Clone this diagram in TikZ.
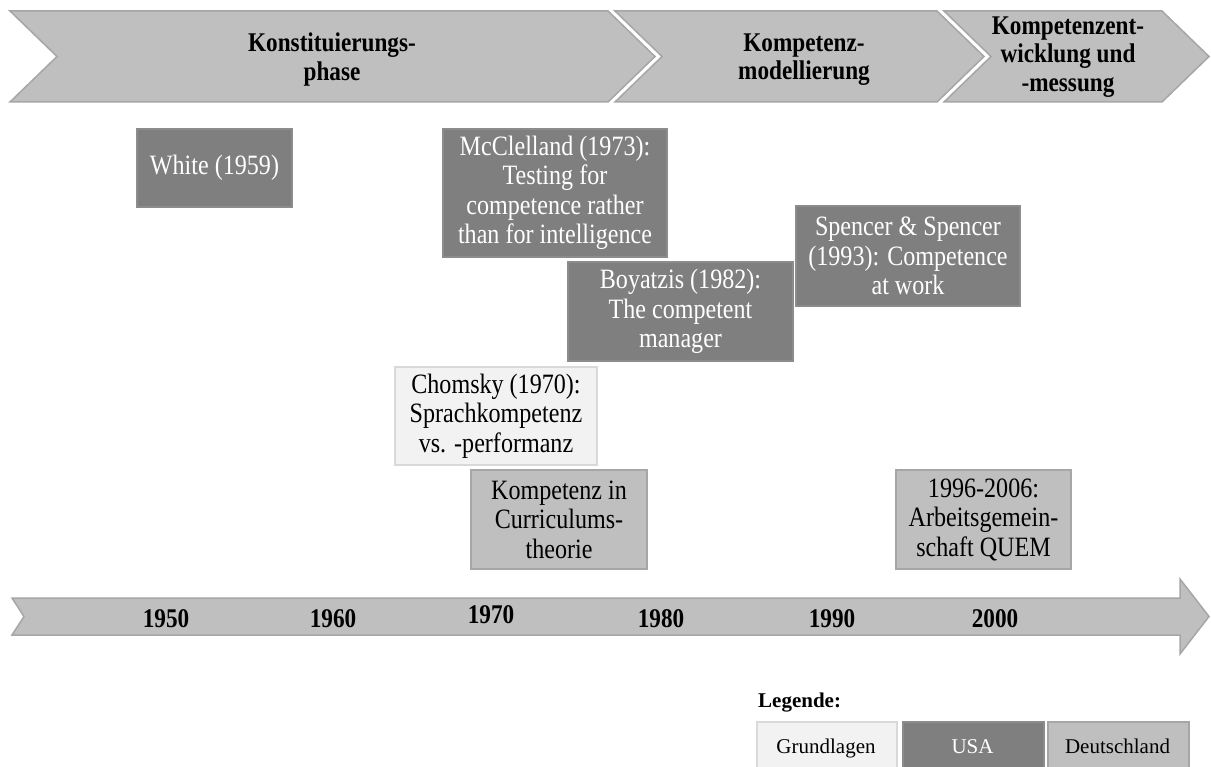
\documentclass[tikz,border=0pt]{standalone}
\usepackage{fontspec}
\setmainfont{Liberation Serif}
\newfontfamily\narrowserif{Liberation Serif}[FakeStretch=0.86]

\definecolor{phasefill}{HTML}{BFBFBF}
\definecolor{phaseline}{HTML}{A6A6A6}
\definecolor{usafill}{HTML}{7F7F7F}
\definecolor{usaline}{HTML}{8C8C8C}
\definecolor{basisfill}{HTML}{F2F2F2}
\definecolor{basisline}{HTML}{D9D9D9}
\definecolor{defill}{HTML}{BFBFBF}
\definecolor{deline}{HTML}{A6A6A6}

\tikzset{
  phaseshape/.style={fill=phasefill, draw=phaseline, line width=1.5pt, line join=miter},
  phaselabel/.style={align=center, inner sep=0pt, font=\fontsize{27}{28.5}\narrowserif\bfseries},
  yearlabel/.style={inner sep=0pt, font=\fontsize{27}{27}\narrowserif\bfseries},
  eventbox/.style={inner sep=0pt, align=center, line width=1.2pt,
    font=\fontsize{28}{29.5}\narrowserif},
  usabox/.style={eventbox, fill=usafill, draw=usaline, text=white},
  basisbox/.style={eventbox, fill=basisfill, draw=basisline, line width=1.6pt},
  debox/.style={eventbox, fill=defill, draw=deline, line width=1.6pt},
  legendbox/.style={inner sep=0pt, minimum height=70pt, anchor=north west,
    line width=1.6pt, font=\fontsize{21}{24}\selectfont},
}

\begin{document}
\begin{tikzpicture}[x=1pt, y=-1pt]
\useasboundingbox (0,0) rectangle (1211,767);
\clip (0,0) rectangle (1211,767);

% phase chevrons
\draw[phaseshape] (10,11) -- (608,11) -- (655,56.5) -- (608,102) -- (10,102) -- (57,56.5) -- cycle;
\draw[phaseshape] (615,11) -- (937,11) -- (984,56.5) -- (937,102) -- (615,102) -- (662,56.5) -- cycle;
\draw[phaseshape] (944,11) -- (1162,11) -- (1209,56.5) -- (1162,102) -- (944,102) -- (991,56.5) -- cycle;
\node[phaselabel] (p1) at (332,59.5) {Konstituierungs-\\phase};
\node[phaselabel] (p2) at (804,59.5) {Kompetenz-\\modellierung};
\node[phaselabel] (p3) at (1068,57) {Kompetenzent-\\wicklung und\\-messung};

% events
\node[usabox, minimum width=155pt, minimum height=78pt] (white) at (214.5,168) {White (1959)};
\node[usabox, minimum width=224pt, minimum height=128pt] (mcc) at (555,193)
  {McClelland (1973):\\Testing for\\competence rather\\than for intelligence};
\node[usabox, minimum width=225pt, minimum height=99pt] (boy) at (680.5,311.5)
  {Boyatzis (1982):\\The competent\\manager};
\node[usabox, minimum width=224pt, minimum height=100pt] (spen) at (908,256)
  {Spencer \& Spencer\\(1993): Competence\\at work};
\node[basisbox, minimum width=202pt, minimum height=98pt] (chom) at (496,416)
  {Chomsky (1970):\\Sprachkompetenz\\vs. -performanz};
\node[debox, minimum width=176pt, minimum height=99pt] (curr) at (559,519.5)
  {Kompetenz in\\Curriculums-\\theorie};
\node[debox, minimum width=175pt, minimum height=99pt] (quem) at (983.5,519.5)
  {1996-2006:\\Arbeitsgemein-\\schaft QUEM};

% time axis
\draw[phaseshape] (12,598) -- (1180,598) -- (1180,579) -- (1209,616.5) -- (1180,654)
  -- (1180,635) -- (12,635) -- (24,616.5) -- cycle;
\node[yearlabel] (y1950) at (166,619) {1950};
\node[yearlabel] (y1960) at (333,619) {1960};
\node[yearlabel] (y1970) at (491,615) {1970};
\node[yearlabel] (y1980) at (661,619) {1980};
\node[yearlabel] (y1990) at (832,619) {1990};
\node[yearlabel] (y2000) at (995,619) {2000};

% legend
\node[anchor=base west, inner sep=0pt, font=\fontsize{21}{24}\selectfont\bfseries] (leg) at (758,707) {Legende:};
\node[legendbox, fill=basisfill, draw=basisline, minimum width=140pt] (lg1) at (756,721) {};
\node[legendbox, fill=usafill, draw=usaline, minimum width=141pt] (lg2) at (902,721) {};
\node[legendbox, fill=defill, draw=deline, minimum width=141pt] (lg3) at (1047,721) {};
\node[anchor=base, inner sep=0pt, font=\fontsize{21}{24}\selectfont] (lt1) at (826,753) {Grundlagen};
\node[anchor=base, inner sep=0pt, font=\fontsize{21}{24}\selectfont, text=white] (lt2) at (972.5,753) {USA};
\node[anchor=base, inner sep=0pt, font=\fontsize{21}{24}\selectfont] (lt3) at (1117.5,753) {Deutschland};
\end{tikzpicture}
\end{document}
